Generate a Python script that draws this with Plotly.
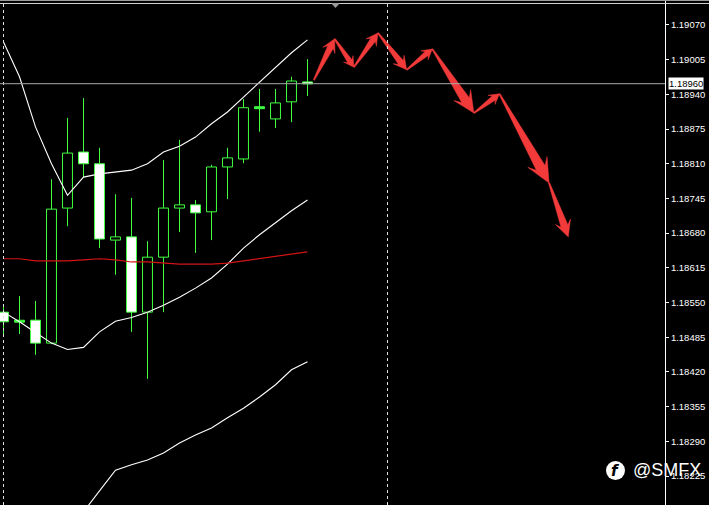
import math
import plotly.graph_objects as go

# ---------------- data ----------------
candle_idx = list(range(20))
opens  = [1.18532, 1.18515, 1.18517, 1.18474, 1.18727, 1.18832, 1.18810, 1.18667, 1.18673, 1.18532,
          1.18635, 1.18727, 1.18733, 1.18720, 1.18804, 1.18819, 1.18915, 1.18894, 1.18926, 1.18963]
highs  = [1.18545, 1.18562, 1.18553, 1.18781, 1.18896, 1.18933, 1.18840, 1.18753, 1.18746, 1.18665,
          1.18817, 1.18855, 1.18742, 1.18808, 1.18840, 1.18931, 1.18950, 1.18950, 1.18973, 1.19006]
lows   = [1.18489, 1.18491, 1.18452, 1.18472, 1.18693, 1.18785, 1.18652, 1.18602, 1.18495, 1.18407,
          1.18532, 1.18682, 1.18643, 1.18667, 1.18744, 1.18811, 1.18870, 1.18877, 1.18888, 1.18937]
closes = [1.18514, 1.18515, 1.18474, 1.18725, 1.18830, 1.18810, 1.18669, 1.18673, 1.18532, 1.18635,
          1.18727, 1.18733, 1.18718, 1.18804, 1.18821, 1.18915, 1.18915, 1.18924, 1.18965, 1.18960]

upper_band = [1.19038, 1.18973, 1.18879, 1.18810, 1.18751, 1.18785, 1.18791, 1.18795, 1.18798, 1.18810,
              1.18832, 1.18843, 1.18860, 1.18885, 1.18907, 1.18935, 1.18963, 1.18991, 1.19018, 1.19042]
lower_band = [1.18532, 1.18514, 1.18494, 1.18474, 1.18462, 1.18466, 1.18495, 1.18515, 1.18522, 1.18532,
              1.18545, 1.18560, 1.18577, 1.18596, 1.18622, 1.18652, 1.18677, 1.18699, 1.18722, 1.18742]
red_ma     = [1.18632, 1.18632, 1.18628, 1.18628, 1.18628, 1.18630, 1.18632, 1.18630, 1.18626, 1.18626,
              1.18624, 1.18622, 1.18622, 1.18622, 1.18624, 1.18628, 1.18632, 1.18637, 1.18641, 1.18645]
low_line_idx = list(range(4, 20))
low_line     = [1.18110, 1.18158, 1.18197, 1.18236, 1.18246, 1.18255, 1.18268, 1.18287, 1.18302, 1.18315,
                1.18334, 1.18352, 1.18373, 1.18396, 1.18424, 1.18439]

arrow_x = [19.4, 20.7, 21.9, 23.4, 25.2, 26.8, 29.4, 31.0, 34.1, 35.3]
arrow_y = [1.18967, 1.19044, 1.18991, 1.19055, 1.18986, 1.19025, 1.18905, 1.18941, 1.18774, 1.18673]

separators = [0, 24]
current_price = 1.18960
tick_vals = [1.19070, 1.19005, 1.18940, 1.18875, 1.18810, 1.18745, 1.18680, 1.18615,
             1.18550, 1.18485, 1.18420, 1.18355, 1.18290, 1.18225]
tick_text = [f"{v:.5f}" for v in tick_vals]

# ---------------- layout geometry ----------------
W, H = 709, 505
PLOT_W = 665
x_range = [-3.5 / 16.0, -3.5 / 16.0 + PLOT_W / 16.0]
y_range = [1.181707, 1.191168]
SX = PLOT_W / (x_range[1] - x_range[0])
SY = H / (y_range[1] - y_range[0])

GREEN = "#40ff40"
fig = go.Figure()

# candle bodies
base, height, fills = [], [], []
for o, c in zip(opens, closes):
    lo, hi = min(o, c), max(o, c)
    if hi - lo < 0.00003:
        mid = (hi + lo) / 2
        lo, hi = mid - 0.000018, mid + 0.000018
    base.append(lo)
    height.append(hi - lo)
    if c > o:
        fills.append("black")
    elif c < o:
        fills.append("white")
    else:
        fills.append(GREEN)

# wicks (split so they don't cross bodies)
wx, wy = [], []
for i, o, h, l, c in zip(candle_idx, opens, highs, lows, closes):
    top, bot = max(o, c), min(o, c)
    wx += [i, i, None, i, i, None]
    wy += [h, top, None, bot, l, None]

fig.add_trace(go.Scatter(x=wx, y=wy, mode="lines", line=dict(color=GREEN, width=1),
                         hoverinfo="skip", showlegend=False))
fig.add_trace(go.Bar(x=candle_idx, y=height, base=base, width=0.62,
                     marker=dict(color=fills, line=dict(color=GREEN, width=1)),
                     hoverinfo="skip", showlegend=False))

for ys in (upper_band, lower_band):
    fig.add_trace(go.Scatter(x=candle_idx, y=ys, mode="lines", line=dict(color="white", width=1.1),
                             hoverinfo="skip", showlegend=False))
fig.add_trace(go.Scatter(x=low_line_idx, y=low_line, mode="lines", line=dict(color="white", width=1.1),
                         hoverinfo="skip", showlegend=False))
fig.add_trace(go.Scatter(x=candle_idx, y=red_ma, mode="lines", line=dict(color="#d41414", width=1.2),
                         hoverinfo="skip", showlegend=False))

# red arrows
def arrow_poly(x0, y0, x1, y1):
    X0, Y0, X1, Y1 = x0 * SX, y0 * SY, x1 * SX, y1 * SY
    dx, dy = X1 - X0, Y1 - Y0
    L = math.hypot(dx, dy)
    ux, uy = dx / L, dy / L
    nx, ny = -uy, ux
    hl = min(max(0.28 * L, 10.0), 24.0)
    hw = 0.75 * hl + 4.0
    sw = 0.45 * hw
    pts = [(0, 0.6), (L - 0.72 * hl, sw / 2), (L - hl, hw / 2), (L, 0),
           (L - hl, -hw / 2), (L - 0.72 * hl, -sw / 2), (0, -0.6), (0, 0.6)]
    xs = [(X0 + ux * a + nx * b) / SX for a, b in pts]
    ys = [(Y0 + uy * a + ny * b) / SY for a, b in pts]
    return xs, ys

for k in range(len(arrow_x) - 1):
    xs, ys = arrow_poly(arrow_x[k], arrow_y[k], arrow_x[k + 1], arrow_y[k + 1])
    fig.add_trace(go.Scatter(x=xs, y=ys, mode="lines", fill="toself", fillcolor="#f23a3a",
                             line=dict(color="#f23a3a", width=0.5), hoverinfo="skip", showlegend=False))

shapes = []
for s in separators:
    shapes.append(dict(type="line", xref="x", yref="paper", x0=s, x1=s, y0=0, y1=1,
                       line=dict(color="#e0e0e0", width=1, dash="3px,3px")))
shapes.append(dict(type="line", xref="paper", yref="y", x0=0, x1=1, y0=current_price, y1=current_price,
                   line=dict(color="#a8a8a8", width=1)))
# window top border
shapes.append(dict(type="line", xref="paper", yref="paper", x0=0, x1=W / PLOT_W, y0=1 - 0.5 / H, y1=1 - 0.5 / H,
                   line=dict(color="#9a9a9a", width=1)))
shapes.append(dict(type="line", xref="paper", yref="paper", x0=0, x1=W / PLOT_W, y0=1 - 3.5 / H, y1=1 - 3.5 / H,
                   line=dict(color="#d0d0d0", width=1)))
# chart shift marker
shapes.append(dict(type="path", xref="paper", yref="paper",
                   path=f"M {331/PLOT_W} {1-3/H} L {340/PLOT_W} {1-3/H} L {335.5/PLOT_W} {1-8/H} Z",
                   fillcolor="#9a9a9a", line=dict(width=0)))
# watermark logo circle
shapes.append(dict(type="circle", xref="paper", yref="paper", layer="below",
                   x0=606 / PLOT_W, x1=625 / PLOT_W, y0=1 - 480 / H, y1=1 - 461 / H,
                   fillcolor="white", line=dict(width=0)))

annotations = [
    dict(xref="paper", yref="y", x=1, y=current_price, xanchor="left", xshift=3,
         text="1.18960", showarrow=False, bgcolor="white", borderpad=0,
         font=dict(family="Liberation Sans", size=9.5, color="black")),
    dict(xref="paper", yref="paper", x=615.5 / PLOT_W, y=1 - 470.5 / H, xanchor="center", yanchor="middle",
         text="<b><i>f</i></b>",
         showarrow=False, font=dict(family="DejaVu Sans", size=15, color="black")),
    dict(xref="paper", yref="paper", x=631 / PLOT_W, y=1 - 470 / H, xanchor="left", yanchor="middle",
         text="@SMFX", showarrow=False, font=dict(family="Liberation Sans", size=18, color="white")),
]

fig.update_layout(
    width=W, height=H,
    margin=dict(l=0, r=W - PLOT_W, t=0, b=0),
    paper_bgcolor="black", plot_bgcolor="black",
    shapes=shapes, annotations=annotations,
    showlegend=False,
    xaxis=dict(range=x_range, showgrid=False, zeroline=False, showticklabels=False,
               ticks="", showline=False, automargin=False, fixedrange=True),
    yaxis=dict(range=y_range, side="right", showgrid=False, zeroline=False,
               tickvals=tick_vals, ticktext=tick_text, ticks="outside", ticklen=3,
               tickcolor="white", showline=True, linecolor="white", linewidth=1,
               tickfont=dict(family="Liberation Sans", size=9.5, color="white"),
               automargin=False, fixedrange=True),
)

fig.write_html("out.html", config={"displayModeBar": False},
               post_script="document.body.style.margin='0';document.body.style.background='black';")
